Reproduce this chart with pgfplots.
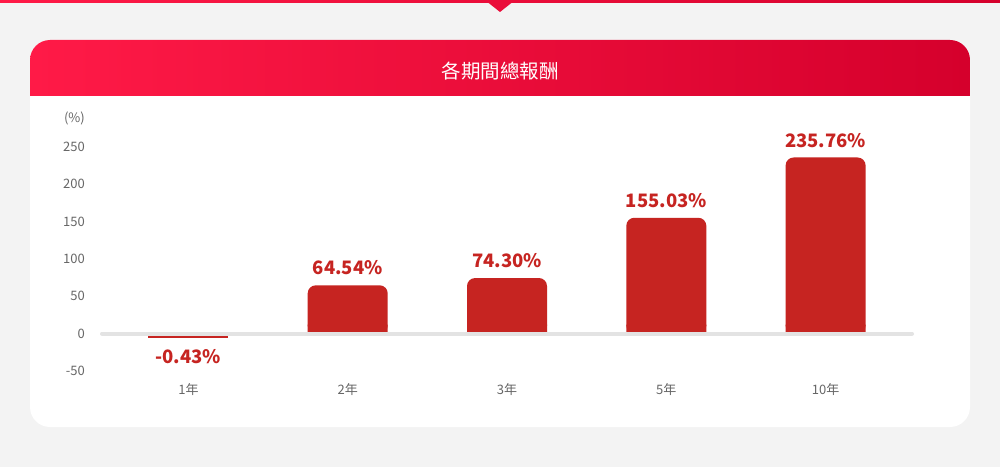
\documentclass[border=0pt]{standalone}
\usepackage{fontspec}
\setmainfont{Noto Sans CJK TC}
\usepackage{pgfplots}
\pgfplotsset{compat=1.18}

\definecolor{bg}{HTML}{F3F3F3}
\definecolor{barred}{HTML}{C62421}
\definecolor{hdrL}{HTML}{FF1A47}
\definecolor{hdrR}{HTML}{D5002C}
\definecolor{tickgray}{HTML}{666666}
\definecolor{zeroline}{HTML}{E3E3E3}

\newcommand{\valfont}{\bfseries\fontsize{18.5}{18.5}\selectfont}
\newcommand{\tickfont}{\fontsize{13}{13}\selectfont}

\begin{document}
\begin{tikzpicture}[x=1pt,y=1pt]
    % page background, top strip and marker
    \fill[bg] (0,0) rectangle (1000,467);
    \shade[left color=hdrL, right color=hdrR] (0,464) rectangle (1000,467);
    \fill[hdrL!50!hdrR] (488,464.5) -- (512,464.5) -- (500,455) -- cycle;
    % card with red header
    \fill[white, rounded corners=20pt] (30,40) rectangle (970,427);
    \begin{scope}
        \clip[rounded corners=20pt] (30,40) rectangle (970,427);
        \shade[left color=hdrL, right color=hdrR] (30,372) rectangle (970,427);
    \end{scope}
    \node[white, font=\fontsize{19.5}{19.5}\selectfont] at (500,396) {各期間總報酬};

    \begin{axis}[
        at={(100pt,85.7pt)},
        anchor=south west,
        scale only axis,
        width=814pt,
        height=264.3pt,
        xmin=-0.555, xmax=4.555,
        ymin=-64, ymax=290,
        clip=false,
        axis x line*=bottom,
        axis y line*=left,
        axis line style={draw=none},
        major tick style={draw=none},
        xtick={0,1,2,3,4},
        xticklabels={1年,2年,3年,5年,10年},
        ytick={-50,0,50,100,150,200,250},
        yticklabels={-50,0,50,100,150,200,250},
        tick label style={font=\tickfont, text=tickgray},
        xticklabel style={anchor=north, inner sep=0pt, yshift=-2pt},
        yticklabel style={anchor=east, inner sep=0pt, xshift=-15pt},
        point meta=explicit symbolic,
        ]
        % positive bars, rounded tops
        \addplot[ybar, bar width=80pt, bar shift=0pt, fill=barred, draw=none,
            rounded corners=8pt,
            nodes near coords,
            nodes near coords style={text=barred, font=\valfont, inner sep=0pt, anchor=south, yshift=10pt, rounded corners=0pt}]
            coordinates {(1,64.54)[64.54\%] (2,74.30)[74.30\%] (3,155.03)[155.03\%] (4,235.76)[235.76\%]};
        % square bottoms
        \addplot[ybar, bar width=80pt, bar shift=0pt, fill=barred, draw=none]
            coordinates {(1,12) (2,12) (3,12) (4,12)};
        % negative 1-year bar, drawn as a thin line under the zero line
        \addplot[ybar, bar width=78.6pt, bar shift=0pt, fill=barred, draw=barred,
            line width=1.4pt, yshift=-3.4pt,
            nodes near coords,
            nodes near coords style={text=barred, font=\valfont, inner sep=0pt, anchor=center, yshift=-19pt}]
            coordinates {(0,-0.43)[-0.43\%]};
        % zero line
        \draw[zeroline, line width=4pt, line cap=round]
            ([xshift=2pt]axis cs:-0.555,0) -- ([xshift=-2pt]axis cs:4.555,0);
        \node[anchor=east, inner sep=0pt, text=tickgray, font=\tickfont]
            at ([xshift=-15pt]axis cs:-0.555,287.5) {(\%)};
    \end{axis}
\end{tikzpicture}
\end{document}
